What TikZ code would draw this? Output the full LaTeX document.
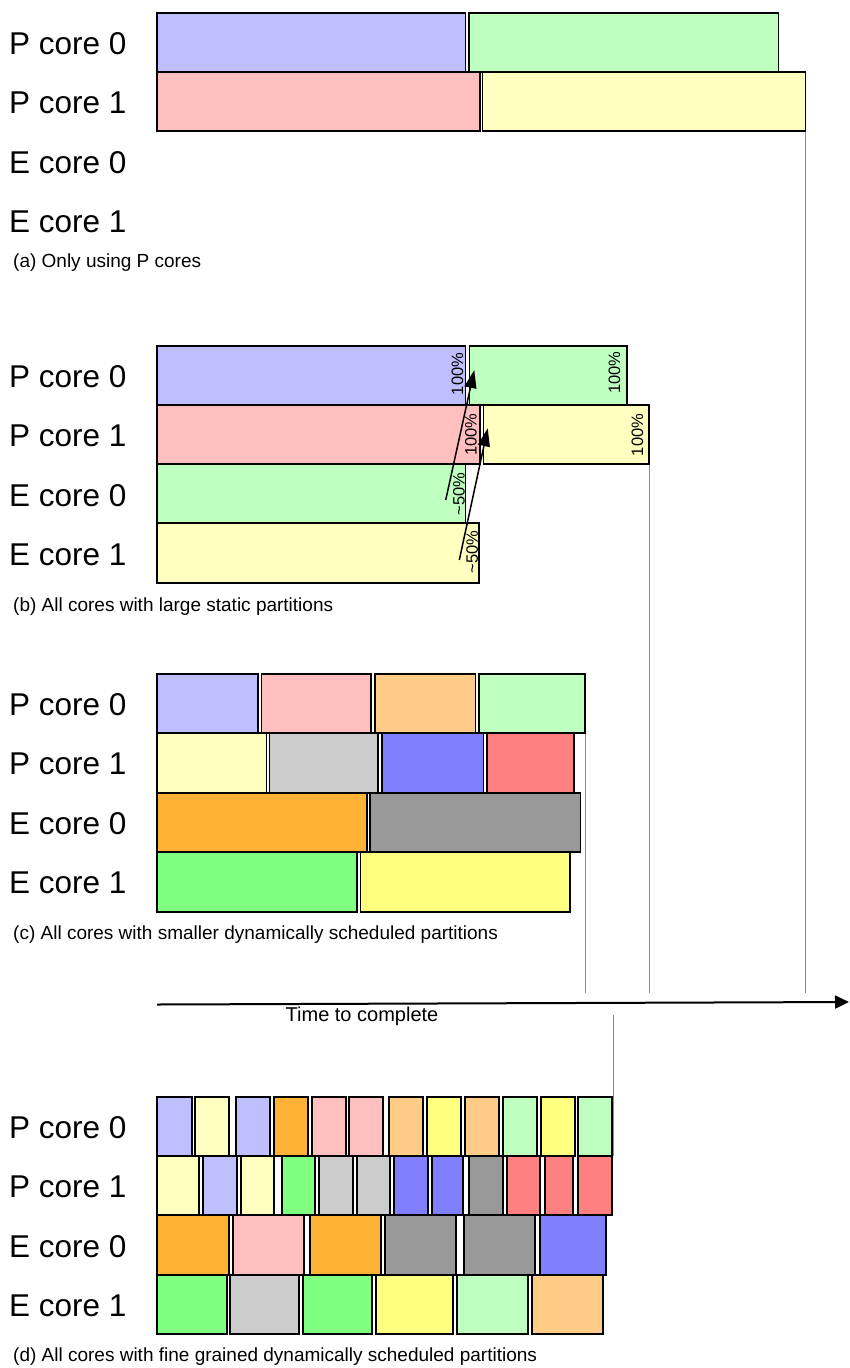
\documentclass[tikz,border=0pt]{standalone}
\usepackage{fontspec}
\setmainfont{Liberation Sans}
\usetikzlibrary{arrows.meta}

\definecolor{lblue}{HTML}{BFBFFF}
\definecolor{lgreen}{HTML}{BFFFBF}
\definecolor{pink}{HTML}{FFBFBF}
\definecolor{lyellow}{HTML}{FFFFBF}
\definecolor{lorange}{HTML}{FFCC88}
\definecolor{lgray}{HTML}{CCCCCC}
\definecolor{mblue}{HTML}{8080FF}
\definecolor{salmon}{HTML}{FF8080}
\definecolor{orange}{HTML}{FFB236}
\definecolor{dgray}{HTML}{999999}
\definecolor{green}{HTML}{80FF80}
\definecolor{yellow}{HTML}{FFFF80}
\definecolor{finishgray}{HTML}{8C8C8C}

\tikzset{
    bar/.style={draw=black,line width=1.7pt},
    core/.style={anchor=west,inner sep=0pt,font=\fontsize{31.5}{32}\selectfont},
    caption/.style={anchor=west,inner sep=0pt,font=\fontsize{19}{20}\selectfont},
    pct/.style={rotate=90,inner sep=0pt,font=\fontsize{16.5}{17}\selectfont},
    finish/.style={draw=finishgray,line width=1.3pt}
}

\begin{document}
\begin{tikzpicture}[x=1pt,y=-1pt,>={Triangle[length=18pt,width=12pt]}]
    \useasboundingbox (0,0) rectangle (849,1368);
    % core labels of the four runs
    \foreach \run/\top in {a/12.7,b/345.7,c/674,d/1096.7}
    {
        \foreach \lab [count=\i from 0] in {P core 0,P core 1,E core 0,E core 1}
            \node[core] (\run-core\i) at (9,\top+31+\i*59.3) {\lab};
    }
    \node[caption] (cap-a) at (13,263) {(a) Only using P cores};
    \node[caption] (cap-b) at (13,607) {(b) All cores with large static partitions};
    \node[caption] (cap-c) at (13,935) {(c) All cores with smaller dynamically scheduled partitions};
    \node[caption] (cap-d) at (13,1356.7) {(d) All cores with fine grained dynamically scheduled partitions};

    % finishing times
    \draw[finish] (805.6,72)--(805.6,993);
    \draw[finish] (649.5,405)--(649.5,993);
    \draw[finish] (585.8,674)--(585.8,993);
    \draw[finish] (613.3,1015)--(613.3,1156);

    % (a)
    \foreach \l/\r/\c in {157/465.6/lblue,469/778.6/lgreen}
        \draw[bar,fill=\c] (\l,12.7) rectangle (\r,72);
    \foreach \l/\r/\c in {157/479.7/pink,482.4/805.6/lyellow}
        \draw[bar,fill=\c] (\l,72) rectangle (\r,130.7);

    % (b)
    \foreach \l/\r/\c in {157/465.6/lblue,469.6/627/lgreen}
        \draw[bar,fill=\c] (\l,345.7) rectangle (\r,405);
    \foreach \l/\r/\c in {157/480/pink,483.5/648.7/lyellow}
        \draw[bar,fill=\c] (\l,405) rectangle (\r,464.3);
    \draw[bar,fill=lgreen] (157,464.3) rectangle (465.6,523.3);
    \draw[bar,fill=lyellow] (157,523.3) rectangle (479,583.3);
    \node[pct] (b-p0a) at (457.5,374) {100\%};
    \node[pct] (b-p0b) at (614.5,372.5) {100\%};
    \node[pct] (b-p1a) at (471,434.5) {100\%};
    \node[pct] (b-p1b) at (637.5,435) {100\%};
    \node[pct] (b-e0) at (459,494) {\textasciitilde50\%};
    \node[pct] (b-e1) at (472.3,551.7) {\textasciitilde50\%};
    \coordinate (from-e0) at (445.7,500);
    \coordinate (to-p0) at (474.3,370);
    \coordinate (from-e1) at (459.3,560);
    \coordinate (to-p1) at (487.7,428.3);
    \draw[->,line width=1.5pt] (from-e0)--(to-p0);
    \draw[->,line width=1.5pt] (from-e1)--(to-p1);

    % (c)
    \foreach \l/\r/\c in {157/258.3/lblue,261.5/370.9/pink,374.7/475.4/lorange,479.2/584.7/lgreen}
        \draw[bar,fill=\c] (\l,674) rectangle (\r,733.3);
    \foreach \l/\r/\c in {157/266.4/lyellow,269.6/377.9/lgray,382.2/483.5/mblue,487.3/573.9/salmon}
        \draw[bar,fill=\c] (\l,733.3) rectangle (\r,792.7);
    \foreach \l/\r/\c in {157/367/orange,370.3/580.4/dgray}
        \draw[bar,fill=\c] (\l,792.7) rectangle (\r,852.3);
    \foreach \l/\r/\c in {157/356.8/green,360.6/570.1/yellow}
        \draw[bar,fill=\c] (\l,852.3) rectangle (\r,911.7);

    % time axis
    \coordinate (t-start) at (157,1004.5);
    \coordinate (t-end) at (849,1002);
    \draw[->,line width=2pt,>={Triangle[length=14pt,width=13pt]}] (t-start)--(t-end);
    \node[inner sep=0pt,font=\fontsize{20}{21}\selectfont] (t-label) at (362,1016) {Time to complete};

    % (d)
    \foreach \l/\r/\c in {157.3/191.7/lblue,195.3/229.3/lyellow,236.3/270.3/lblue,274.3/308/orange,
        311.7/345.7/pink,349.3/383.3/pink,389/423/lorange,426.7/460.7/yellow,
        464.7/498.7/lorange,503/537/lgreen,540.7/574.7/yellow,578.3/612.3/lgreen}
        \draw[bar,fill=\c] (\l,1096.7) rectangle (\r,1156);
    \foreach \l/\r/\c in {157.3/199/lyellow,203.3/236.7/lblue,240.7/274/lyellow,281.7/315.3/green,
        319.3/352.7/lgray,356.7/390/lgray,394.3/427.7/mblue,431.7/462.7/mblue,
        469.3/502.7/dgray,507/540.3/salmon,544.7/573.3/salmon,578/612.3/salmon}
        \draw[bar,fill=\c] (\l,1156) rectangle (\r,1215.3);
    \foreach \l/\r/\c in {157.3/228.7/orange,232.7/304/pink,310.3/381/orange,
        385.3/456.3/dgray,464/535.3/dgray,540.3/606/mblue}
        \draw[bar,fill=\c] (\l,1215.3) rectangle (\r,1275);
    \foreach \l/\r/\c in {157.3/226.7/green,230/299.3/lgray,303.3/371.7/green,
        375.7/453.3/yellow,456.7/528.3/lgreen,531.7/603.3/lorange}
        \draw[bar,fill=\c] (\l,1275) rectangle (\r,1334);
\end{tikzpicture}
\end{document}
